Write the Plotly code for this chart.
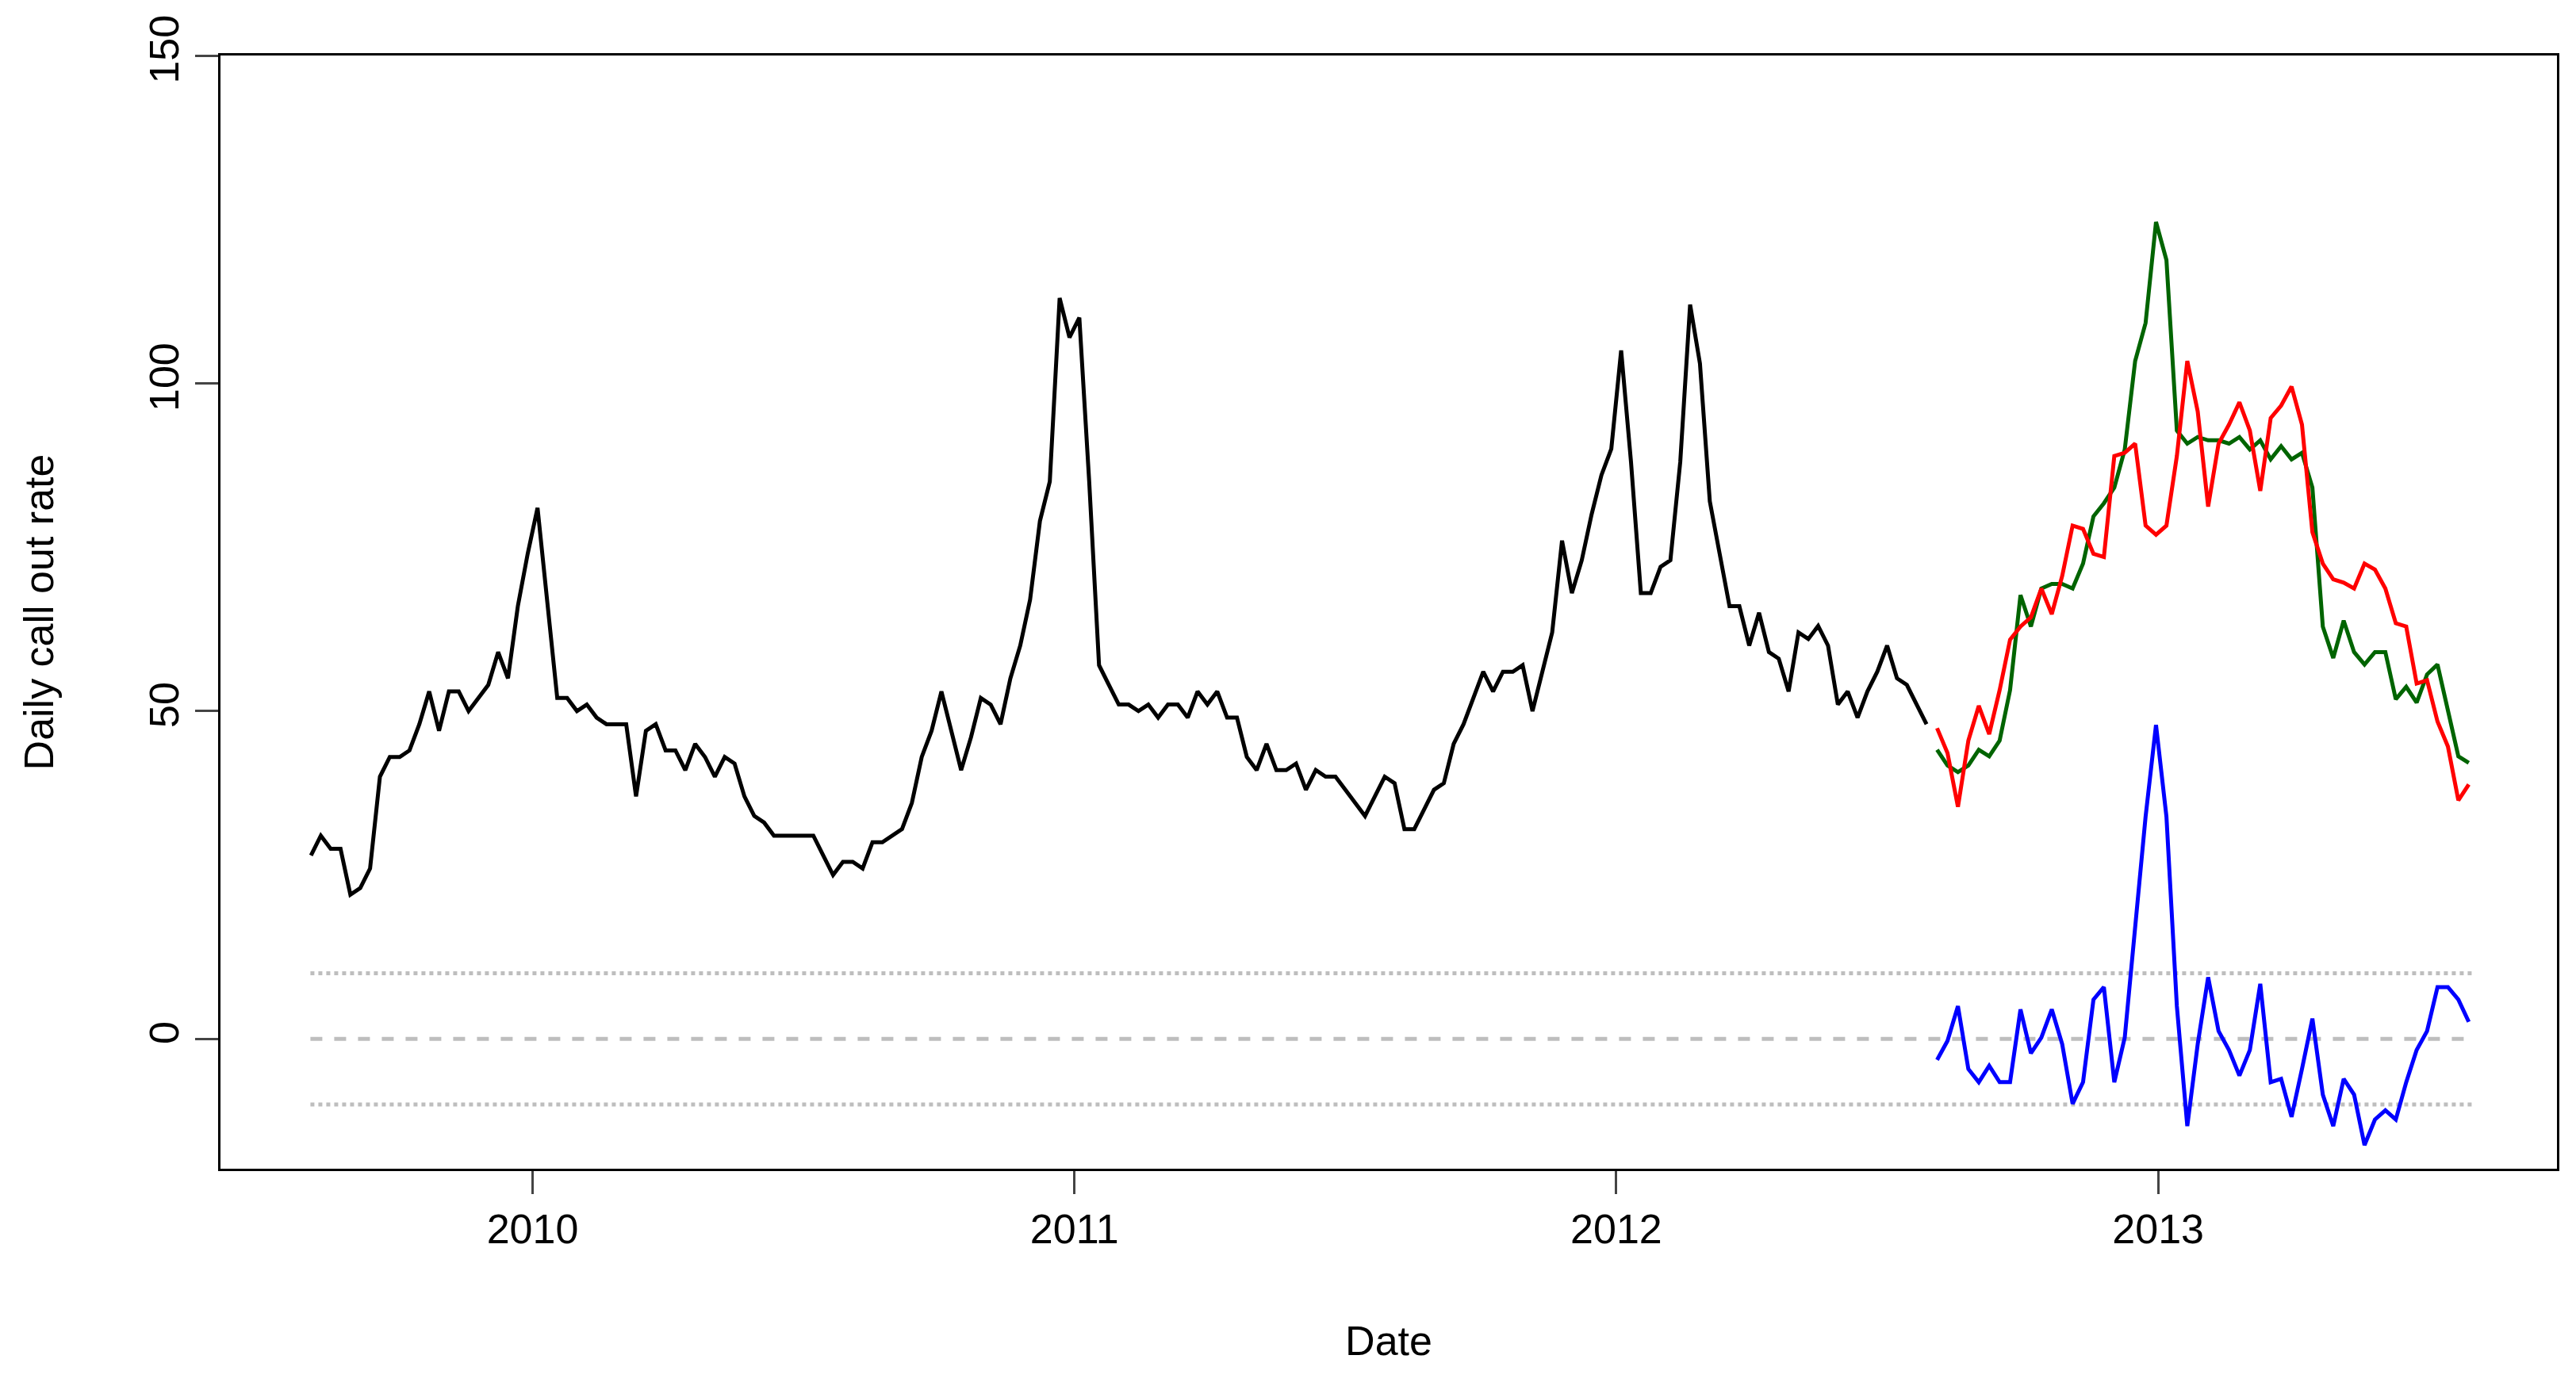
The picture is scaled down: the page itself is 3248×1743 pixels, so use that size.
import plotly.graph_objects as go

# observed series (weekly, decimal-year x)
obs_start = 2009.591
obs_step = 0.01818
observed = [28, 31, 29, 29, 22, 23, 26, 40, 43, 43, 44, 48, 53, 47, 53, 53, 50, 52, 54, 59,
            55, 66, 74, 81, 66, 52, 52, 50, 51, 49, 48, 48, 48, 37, 47, 48, 44, 44, 41, 45,
            43, 40, 43, 42, 37, 34, 33, 31, 31, 31, 31, 31, 28, 25, 27, 27, 26, 30, 30, 31,
            32, 36, 43, 47, 53, 47, 41, 46, 52, 51, 48, 55, 60, 67, 79, 85, 113, 107, 110, 85,
            57, 54, 51, 51, 50, 51, 49, 51, 51, 49, 53, 51, 53, 49, 49, 43, 41, 45, 41, 41,
            42, 38, 41, 40, 40, 38, 36, 34, 37, 40, 39, 32, 32, 35, 38, 39, 45, 48, 52, 56,
            53, 56, 56, 57, 50, 56, 62, 76, 68, 73, 80, 86, 90, 105, 88, 68, 68, 72, 73, 88,
            112, 103, 82, 74, 66, 66, 60, 65, 59, 58, 53, 62, 61, 63, 60, 51, 53, 49, 53, 56,
            60, 55, 54, 51, 48]

fc_start = 2012.592
fc_step = 0.01924
forecast_red = [47.4, 43.6, 35.4, 45.5, 50.8, 46.5, 53.2, 60.9, 62.9, 64.3, 68.7, 64.8, 70.6,
                78.3, 77.8, 74.0, 73.5, 88.9, 89.4, 90.8, 78.3, 76.9, 78.3, 88.9, 103.4, 95.7,
                81.2, 90.8, 93.7, 97.1, 92.8, 83.6, 94.7, 96.6, 99.5, 93.7, 77.3, 72.5, 70.1,
                69.6, 68.7, 72.5, 71.6, 68.7, 63.4, 62.9, 54.2, 54.7, 48.4, 44.6, 36.4, 38.8]
actual_green = [44.1, 41.7, 40.7, 41.7, 44.1, 43.1, 45.5, 53.2, 67.7, 62.9, 68.7, 69.4, 69.4,
                68.7, 72.5, 79.7, 81.7, 84.1, 89.9, 103.4, 109.2, 124.6, 118.8, 92.8, 90.8, 91.8,
                91.3, 91.3, 90.8, 91.8, 89.9, 91.3, 88.4, 90.4, 88.4, 89.4, 84.1, 62.9, 58.1,
                63.8, 59.0, 57.1, 59.0, 59.0, 51.8, 53.7, 51.3, 55.6, 57.1, 50.3, 43.1, 42.1]
error_blue = [-3.2, -0.3, 5.0, -4.6, -6.6, -4.1, -6.6, -6.6, 4.5, -2.2, 0.2, 4.5, -0.8, -9.9,
              -6.6, 6.0, 7.9, -6.6, 0.2, 16.6, 33.9, 47.9, 33.9, 5.0, -13.3, -0.8, 9.4, 1.2,
              -1.7, -5.6, -1.7, 8.4, -6.6, -6.1, -11.9, -4.6, 3.1, -8.5, -13.3, -6.1, -8.5,
              -16.2, -12.3, -10.9, -12.3, -6.6, -1.7, 1.2, 7.9, 7.9, 6.0, 2.6]

ref_x = [2009.59, 2013.58]
ref_levels = {"upper": 10, "zero": 0, "lower": -10}

obs_x = [obs_start + i * obs_step for i in range(len(observed))]
fc_x = [fc_start + i * fc_step for i in range(len(forecast_red))]

fig = go.Figure()

for name, lvl in ref_levels.items():
    fig.add_trace(go.Scatter(
        x=ref_x, y=[lvl, lvl], mode='lines', showlegend=False,
        line=dict(color='#bebebe', width=5, dash='dash' if lvl == 0 else 'dot')
    ))

fig.add_trace(go.Scatter(x=obs_x, y=observed, mode='lines', showlegend=False,
                         line=dict(color='black', width=5)))
fig.add_trace(go.Scatter(x=fc_x, y=actual_green, mode='lines', showlegend=False,
                         line=dict(color='#006400', width=5)))
fig.add_trace(go.Scatter(x=fc_x, y=forecast_red, mode='lines', showlegend=False,
                         line=dict(color='red', width=5)))
fig.add_trace(go.Scatter(x=fc_x, y=error_blue, mode='lines', showlegend=False,
                         line=dict(color='blue', width=5)))

axis_font = dict(family='Liberation Sans, Arial', size=52, color='black')

fig.update_layout(
    width=3248, height=1743,
    margin=dict(l=270, r=32, t=62, b=277),
    plot_bgcolor='white', paper_bgcolor='white',
    xaxis=dict(
        range=[2009.424, 2013.736], tickvals=[2010, 2011, 2012, 2013],
        ticktext=['2010', '2011', '2012', '2013'],
        showgrid=False, zeroline=False, showline=True, mirror=True,
        linecolor='black', linewidth=3, ticks='outside', ticklen=29, tickwidth=3,
        tickfont=axis_font,
        title=dict(text='Date', font=axis_font, standoff=95)
    ),
    yaxis=dict(
        range=[-19.8, 150], tickvals=[0, 50, 100, 150], tickangle=-90,
        showgrid=False, zeroline=False, showline=True, mirror=True,
        linecolor='black', linewidth=3, ticks='outside', ticklen=29, tickwidth=3,
        tickfont=axis_font,
        title=dict(text='Daily call out rate', font=axis_font, standoff=95)
    ),
)

fig.write_html("out.html")
